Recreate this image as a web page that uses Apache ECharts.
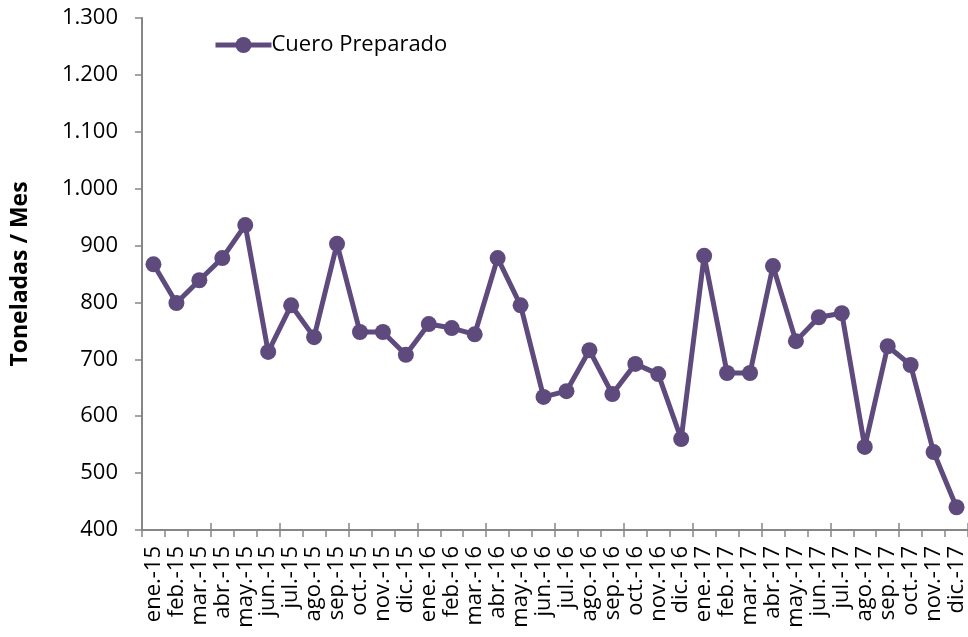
<!DOCTYPE html>
<html>
<head>
<meta charset="utf-8">
<script src="https://cdn.jsdelivr.net/npm/echarts@6/dist/echarts.min.js"></script>
<style>
html, body { margin: 0; padding: 0; background: #fff; }
#chart { width: 968px; height: 637px; }
</style>
</head>
<body>
<div id="chart"></div>
<script>
// meses
var meses = ['ene.-15','feb.-15','mar.-15','abr.-15','may.-15','jun.-15','jul.-15','ago.-15','sep.-15','oct.-15','nov.-15','dic.-15',
	'ene.-16','feb.-16','mar.-16','abr.-16','may.-16','jun.-16','jul.-16','ago.-16','sep.-16','oct.-16','nov.-16','dic.-16',
	'ene.-17','feb.-17','mar.-17','abr.-17','may.-17','jun.-17','jul.-17','ago.-17','sep.-17','oct.-17','nov.-17','dic.-17'];
// Cuero Preparado (toneladas / mes)
var cueroPreparado = [867, 799, 839, 878, 936, 713, 795, 739, 903, 748, 748, 708,
	762, 755, 744, 878, 795, 634, 644, 716, 639, 692, 674, 560,
	882, 676, 676, 864, 732, 774, 781, 546, 723, 690, 537, 440];

var fuente = '"Open Sans", "Noto Sans", sans-serif';
var gris = '#868686';
var morado = '#5e4a7d';
var myChart = echarts.init(document.getElementById('chart'));
myChart.setOption({
	animation: false,
	textStyle: { fontFamily: fuente },
	legend: {
		left: 208,
		top: 29,
		itemWidth: 56,
		itemHeight: 20,
		itemGap: 0,
		lineStyle: { width: 5 },
		textStyle: { fontSize: 22, color: '#000', fontFamily: fuente, padding: [0, 0, 0, -5] },
		data: ['Cuero Preparado']
	},
	grid: {
		left: 142,
		right: 0,
		top: 18,
		bottom: 107
	},
	xAxis: [{
		type: 'category',
		data: meses,
		boundaryGap: true,
		axisLine: { lineStyle: { color: gris, width: 2 } },
		axisTick: { show: true, length: 7, lineStyle: { color: gris, width: 1.5 } },
		axisLabel: {
			interval: 0,
			rotate: 90,
			color: '#000',
			fontSize: 22,
			fontFamily: fuente,
			margin: 16
		}
	}, {
		// marcas hacia dentro (cruzan el eje)
		type: 'category',
		data: meses,
		position: 'bottom',
		boundaryGap: true,
		axisLine: { show: false },
		axisTick: { show: true, inside: true, length: 7, lineStyle: { color: gris, width: 1.5 } },
		axisLabel: { show: false }
	}],
	yAxis: {
		type: 'value',
		min: 400,
		max: 1300,
		interval: 100,
		name: 'Toneladas / Mes',
		nameLocation: 'middle',
		nameGap: 110,
		nameRotate: 90,
		nameTextStyle: { fontSize: 23, fontWeight: 'bold', color: '#000', fontFamily: fuente },
		splitLine: { show: false },
		axisLine: { show: true, lineStyle: { color: gris, width: 2 } },
		axisTick: { show: true, length: 7, lineStyle: { color: gris, width: 1.5 } },
		axisLabel: {
			color: '#000',
			fontSize: 22,
			fontFamily: fuente,
			margin: 24,
			formatter: function (v) {
				return String(v).replace(/\B(?=(\d{3})+(?!\d))/g, '.');
			}
		}
	},
	series: [{
		name: 'Cuero Preparado',
		type: 'line',
		data: cueroPreparado,
		symbol: 'circle',
		symbolSize: 16,
		color: morado,
		lineStyle: { width: 5, color: morado },
		itemStyle: { color: morado }
	}]
});
</script>
</body>
</html>
